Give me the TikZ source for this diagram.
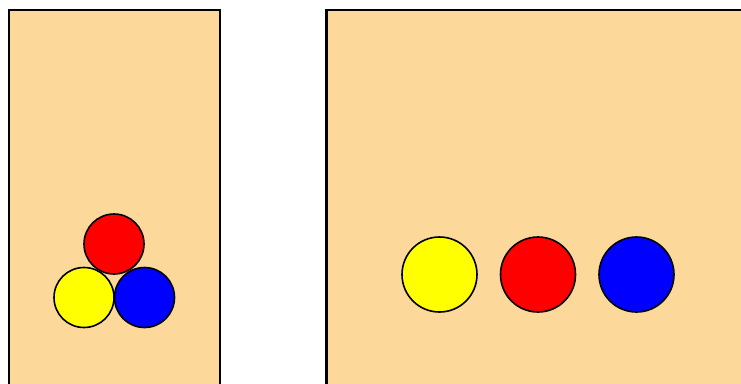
\documentclass[tikz,border=0pt]{standalone}
\usepackage{xcolor}
\usepackage{tikz}
\usetikzlibrary{positioning}
\definecolor{sand}{HTML}{FCD99B}
\definecolor{ballyellow}{HTML}{FFFF00}
\definecolor{ballred}{HTML}{FF0000}
\definecolor{ballblue}{HTML}{0000FF}

\begin{document}
\begin{tikzpicture}[x=1pt,y=-1pt,
  tray/.style={fill=sand,draw=black,line width=2.4pt},
  ball/.style={circle,draw=black,line width=1.6pt,inner sep=0pt}]
  \useasboundingbox (0,0) rectangle (741,383);
  \begin{scope}
    \clip (0,0) rectangle (741,383);
    \draw[tray] (9,10) rectangle (220,400);
    \draw[tray] (326.5,10) rectangle (760,400);
  \end{scope}
  % packed cluster
  \node[ball,fill=ballred,minimum size=60pt] (redA) at (114,244) {};
  \node[ball,fill=ballyellow,minimum size=60pt] (yellowA) at (84,297.5) {};
  \node[ball,fill=ballblue,minimum size=60pt] (blueA) at (144.5,297.5) {};
  % spread out row
  \node[ball,fill=ballyellow,minimum size=75pt] (yellowB) at (439.5,274.5) {};
  \node[ball,fill=ballred,minimum size=75pt] (redB) at (538,274.5) {};
  \node[ball,fill=ballblue,minimum size=75pt] (blueB) at (636.5,274.5) {};
\end{tikzpicture}
\end{document}
